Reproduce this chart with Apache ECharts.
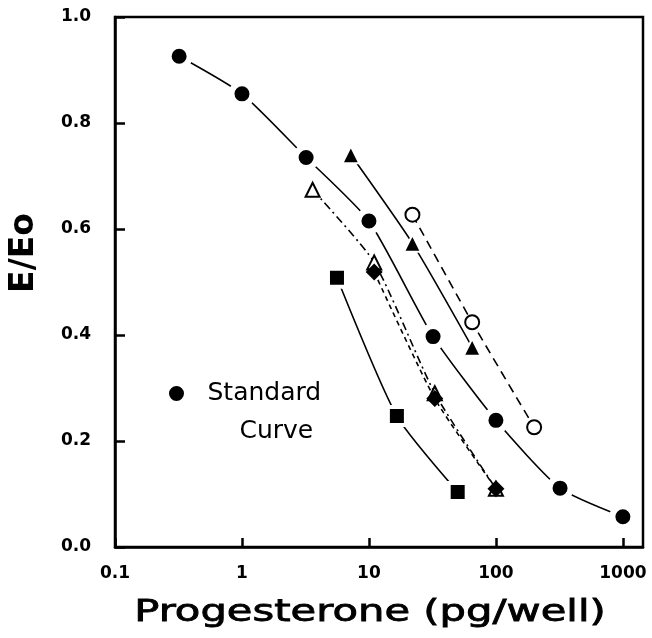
<!DOCTYPE html>
<html>
<head>
<meta charset="utf-8">
<script src="https://cdn.jsdelivr.net/npm/echarts@6/dist/echarts.min.js"></script>
<style>html,body{margin:0;padding:0;background:#fff;}#c{width:652px;height:638px;}</style>
</head>
<body>
<div id="c"></div>
<script>
// ---- data ----
var xTickLabels = ['0.1', '1', '10', '100', '1000'];
var yTickLabels = ['0.0', '0.2', '0.4', '0.6', '0.8', '1.0'];
var xTitle = 'Progesterone (pg/well)';
var yTitle = 'E/Eo';

var stdX = [0.32, 1, 3.2, 10, 32, 100, 320, 1000];
var stdY = [0.926, 0.855, 0.735, 0.615, 0.397, 0.239, 0.111, 0.057];

var triFilledX = [7.2, 22, 65];
var triFilledY = [0.74, 0.573, 0.377];

var circOpenX = [22, 65, 200];
var circOpenY = [0.627, 0.424, 0.226];

var triOpenX = [3.6, 11, 33, 100];
var triOpenY = [0.674, 0.537, 0.29, 0.11];

var diamondX = [11, 33, 100];
var diamondY = [0.519, 0.28, 0.11];

var squareX = [5.6, 16.6, 50];
var squareY = [0.508, 0.247, 0.104];

function pairs(xs, ys) { return xs.map(function (x, i) { return [x, ys[i]]; }); }

var chart = echarts.init(document.getElementById('c'), null, { renderer: 'canvas' });

// filled marks get a white halo so the line stops short of them, as in the reference
function mkSeries(name, xs, ys, symbol, size, filled, halo, lineType, z) {
  return {
    name: name,
    type: 'line',
    data: pairs(xs, ys),
    smooth: 0.2,
    symbol: symbol,
    symbolSize: filled ? size + halo : size,
    showAllSymbol: true,
    z: z,
    lineStyle: { color: '#000', width: 1.6, type: lineType },
    itemStyle: filled
      ? { color: '#000', borderColor: '#fff', borderWidth: halo }
      : { color: '#fff', borderColor: '#000', borderWidth: 2 },
    emphasis: { disabled: true },
    animation: false
  };
}

// legend icon: circle at the top of a tall box, so it lines up with the first text line
var legendIcon = 'path://M0,7.5 A7.5,7.5 0 1,0 15,7.5 A7.5,7.5 0 1,0 0,7.5 Z M7.5,53 L7.5,53.01';

var option = {
  animation: false,
  backgroundColor: '#fff',
  grid: { left: 114, right: 9, top: 17, bottom: 91, show: true, borderColor: '#000', borderWidth: 2.5, backgroundColor: 'transparent' },
  legend: {
    data: ['Standard Curve'],
    left: 164, top: 376,
    icon: legendIcon,
    itemWidth: 52, itemHeight: 53,
    itemStyle: { color: '#000', borderWidth: 0 },
    selectedMode: false,
    formatter: function () { return '{a|Standard}\n{b|Curve}'; },
    textStyle: {
      color: '#000', fontFamily: 'DejaVu Sans', fontSize: 25,
      rich: {
        a: { fontFamily: 'DejaVu Sans', fontSize: 25, color: '#000', lineHeight: 38 },
        b: { fontFamily: 'DejaVu Sans', fontSize: 25, color: '#000', lineHeight: 38, padding: [0, 0, 0, 32] }
      }
    }
  },
  graphic: [{
    type: 'text',
    x: 370, y: 613,
    scaleX: 1.39,
    silent: true,
    style: {
      text: xTitle,
      fill: '#000',
      stroke: '#000',
      lineWidth: 0.8,
      font: '30px "DejaVu Sans"',
      textAlign: 'center',
      textVerticalAlign: 'middle'
    }
  }],
  xAxis: {
    type: 'log', logBase: 10, min: 0.1, max: 1440,
    axisLine: { lineStyle: { color: '#000', width: 2.5 } },
    axisTick: { inside: true, length: 9, lineStyle: { color: '#000', width: 2.5 } },
    minorTick: { show: false },
    splitLine: { show: false },
    axisLabel: {
      color: '#000', fontFamily: 'DejaVu Sans', fontWeight: 'bold', fontSize: 17, margin: 18,
      showMaxLabel: false,
      formatter: function (v) {
        var e = Math.round(Math.log10(v));
        if (Math.abs(Math.log10(v) - e) > 1e-6) return '';
        return xTickLabels[e + 1] || '';
      }
    }
  },
  yAxis: {
    type: 'value', min: 0, max: 1, interval: 0.2,
    name: yTitle,
    nameLocation: 'middle', nameGap: 74,
    nameTextStyle: { color: '#000', fontFamily: 'DejaVu Sans', fontWeight: 'bold', fontSize: 33, padding: [0, 0, 0, 58] },
    axisLine: { show: true, lineStyle: { color: '#000', width: 2.5 } },
    axisTick: { show: true, inside: true, length: 10, lineStyle: { color: '#000', width: 2.5 } },
    splitLine: { show: false },
    axisLabel: {
      color: '#000', fontFamily: 'DejaVu Sans', fontWeight: 'bold', fontSize: 17, margin: 24,
      formatter: function (v) { return yTickLabels[Math.round(v / 0.2)]; }
    }
  },
  series: [
    mkSeries('Standard Curve', stdX, stdY, 'circle', 15, true, 6, 'solid', 6),
    mkSeries('Filled triangles', triFilledX, triFilledY, 'triangle', 15, true, 2, 'solid', 4),
    mkSeries('Open circles', circOpenX, circOpenY, 'circle', 14, false, 0, [9, 6], 4),
    mkSeries('Open triangles', triOpenX, triOpenY, 'triangle', 14, false, 0, [8, 4, 2, 4], 3),
    mkSeries('Diamonds', diamondX, diamondY, 'diamond', 17, true, 0, [5, 4], 5),
    mkSeries('Squares', squareX, squareY, 'rect', 14, true, 4, 'solid', 4)
  ]
};
chart.setOption(option);
</script>
</body>
</html>
